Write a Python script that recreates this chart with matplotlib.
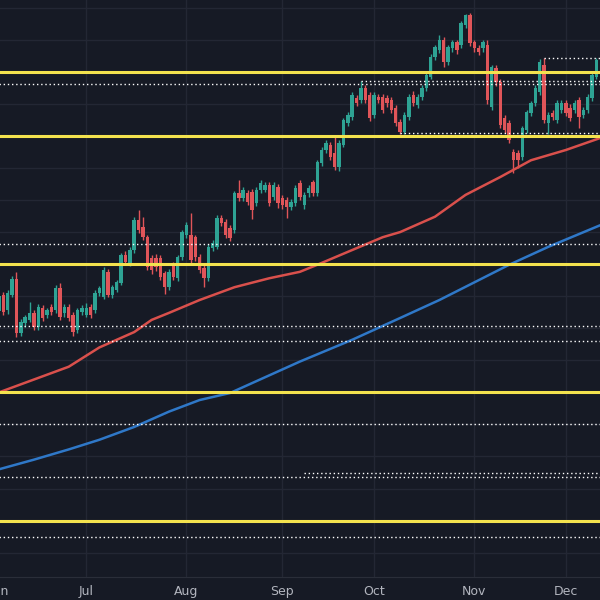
import numpy as np
import matplotlib
matplotlib.use("Agg")
import matplotlib.pyplot as plt

# daily gold candles, Jun 3 - Dec 11 (one entry per trading day)
opens = [2327, 2352, 2328, 2352, 2377, 2293, 2308, 2313, 2324, 2302,
         2332, 2321, 2333, 2328, 2363, 2324, 2333, 2321, 2297, 2325,
         2321, 2333, 2328, 2355, 2349, 2388, 2352, 2360, 2371, 2414,
         2402, 2422, 2469, 2458, 2442, 2410, 2410, 2410, 2386, 2364,
         2399, 2378, 2411, 2445, 2445, 2442, 2411, 2394, 2378, 2425,
         2427, 2472, 2466, 2456, 2453, 2511, 2503, 2511, 2512, 2495,
         2516, 2516, 2523, 2505, 2520, 2503, 2500, 2489, 2495, 2527,
         2492, 2511, 2528, 2511, 2558, 2578, 2586, 2573, 2551, 2586,
         2620, 2629, 2659, 2656, 2675, 2664, 2633, 2661, 2661, 2659,
         2656, 2644, 2622, 2606, 2629, 2664, 2648, 2661, 2675, 2692,
         2723, 2734, 2750, 2715, 2737, 2746, 2742, 2773, 2789, 2746,
         2737, 2737, 2742, 2645, 2706, 2684, 2628, 2620, 2575, 2573,
         2567, 2609, 2636, 2651, 2668, 2711, 2620, 2636, 2625, 2640,
         2651, 2644, 2640, 2656, 2633, 2640, 2659, 2692]
highs = [2354, 2356, 2360, 2381, 2388, 2314, 2320, 2341, 2328, 2338,
         2336, 2332, 2338, 2368, 2371, 2338, 2338, 2326, 2332, 2336,
         2340, 2338, 2360, 2366, 2395, 2393, 2368, 2376, 2418, 2420,
         2426, 2474, 2484, 2474, 2446, 2414, 2416, 2414, 2390, 2392,
         2404, 2414, 2453, 2465, 2480, 2446, 2416, 2398, 2431, 2437,
         2476, 2477, 2470, 2461, 2514, 2531, 2520, 2516, 2517, 2520,
         2531, 2528, 2528, 2528, 2525, 2508, 2505, 2501, 2524, 2531,
         2512, 2524, 2532, 2563, 2582, 2594, 2590, 2598, 2594, 2628,
         2638, 2668, 2664, 2686, 2680, 2668, 2668, 2666, 2666, 2664,
         2660, 2648, 2626, 2637, 2665, 2670, 2666, 2680, 2699, 2727,
         2742, 2758, 2755, 2742, 2750, 2750, 2780, 2790, 2792, 2750,
         2742, 2750, 2750, 2710, 2710, 2688, 2632, 2625, 2580, 2578,
         2616, 2641, 2655, 2679, 2720, 2722, 2637, 2640, 2656, 2656,
         2656, 2650, 2656, 2660, 2645, 2666, 2700, 2722]
lows = [2314, 2320, 2322, 2348, 2286, 2288, 2302, 2309, 2298, 2297,
        2312, 2316, 2320, 2324, 2313, 2318, 2312, 2288, 2292, 2320,
        2318, 2316, 2324, 2350, 2346, 2348, 2347, 2356, 2368, 2398,
        2397, 2418, 2449, 2438, 2391, 2385, 2390, 2376, 2353, 2360,
        2376, 2374, 2407, 2440, 2400, 2405, 2386, 2365, 2374, 2420,
        2423, 2459, 2440, 2436, 2449, 2498, 2498, 2492, 2471, 2490,
        2511, 2512, 2490, 2500, 2488, 2486, 2472, 2484, 2490, 2500,
        2486, 2505, 2506, 2506, 2553, 2573, 2562, 2547, 2546, 2582,
        2615, 2625, 2646, 2651, 2652, 2624, 2628, 2651, 2636, 2645,
        2635, 2615, 2603, 2603, 2625, 2646, 2644, 2656, 2670, 2688,
        2718, 2729, 2708, 2710, 2731, 2728, 2737, 2768, 2740, 2731,
        2726, 2731, 2650, 2640, 2678, 2612, 2605, 2589, 2542, 2550,
        2562, 2604, 2631, 2646, 2664, 2620, 2603, 2625, 2620, 2636,
        2631, 2623, 2635, 2613, 2628, 2636, 2655, 2688]
closes = [2350, 2325, 2355, 2377, 2293, 2310, 2317, 2324, 2302, 2333,
          2316, 2328, 2325, 2363, 2317, 2333, 2316, 2294, 2328, 2332,
          2332, 2321, 2355, 2363, 2391, 2352, 2364, 2372, 2414, 2403,
          2422, 2469, 2453, 2442, 2395, 2391, 2395, 2380, 2364, 2388,
          2380, 2411, 2450, 2461, 2406, 2411, 2391, 2378, 2427, 2433,
          2472, 2464, 2445, 2441, 2511, 2503, 2516, 2497, 2484, 2516,
          2527, 2523, 2495, 2523, 2495, 2492, 2489, 2497, 2519, 2505,
          2508, 2519, 2511, 2559, 2578, 2589, 2567, 2551, 2589, 2625,
          2633, 2664, 2651, 2675, 2656, 2628, 2664, 2656, 2640, 2651,
          2640, 2620, 2606, 2633, 2661, 2651, 2661, 2675, 2695, 2723,
          2739, 2750, 2715, 2739, 2746, 2734, 2776, 2789, 2745, 2737,
          2731, 2746, 2656, 2707, 2684, 2617, 2609, 2594, 2562, 2562,
          2612, 2637, 2651, 2675, 2715, 2625, 2633, 2629, 2651, 2651,
          2636, 2628, 2651, 2629, 2640, 2661, 2695, 2718]

# moving averages (candle index, price)
redMaIdx = [0, 8, 16, 23, 31, 35, 39, 46, 54, 62, 69, 73, 81, 88, 92, 100, 107, 115, 122, 130, 138]
redMaVal = [2200, 2220, 2240, 2270, 2294, 2313, 2324, 2344, 2364, 2378, 2388,
            2399, 2422, 2442, 2450, 2474, 2508, 2536, 2562, 2578, 2597]
blueMaIdx = [0, 8, 16, 23, 31, 39, 46, 53, 69, 81, 92, 101, 117, 126, 138]
blueMaVal = [2080, 2095, 2111, 2126, 2146, 2170, 2188, 2199, 2248, 2282,
             2316, 2344, 2399, 2427, 2461]

# support / resistance levels
yellowLevels = [2700, 2600, 2400, 2200, 2000]
dottedLevels = [2681, 2432, 2304, 2280, 2151, 2068, 1975]
# partial dotted levels: (price, start index)
partialLevels = [(2722, 125), (2686, 83), (2604, 92), (2074, 70)]

monthIdx = [0, 20, 43, 65, 86, 109, 130]
monthNames = ["Jun", "Jul", "Aug", "Sep", "Oct", "Nov", "Dec"]

bg = "#161a25"
gridColor = "#232734"
upColor = "#2ea394"
downColor = "#e05559"

fig = plt.figure(figsize=(6, 6), dpi=100, facecolor=bg)
ax = fig.add_axes([-10 / 600, 23 / 600, 610 / 600, 577 / 600])
ax.set_facecolor(bg)

ax.set_xlim(-2.064, 137.84)
ax.set_ylim(1912, 2812)

ax.set_yticks(np.arange(1950, 2801, 50))
ax.set_xticks(monthIdx)
ax.set_xticklabels(monthNames)
ax.tick_params(axis="x", length=0, colors="#b2b5be", labelsize=9, pad=6)
ax.tick_params(axis="y", left=False, labelleft=False)
ax.grid(True, color=gridColor, linewidth=1)
ax.set_axisbelow(True)
for side in ["top", "left", "right"]:
    ax.spines[side].set_visible(False)
ax.spines["bottom"].set_color("#2a2e39")

idx = np.arange(len(opens))
o = np.array(opens)
c = np.array(closes)
colors = [upColor if c[i] >= o[i] else downColor for i in idx]

ax.vlines(idx, lows, highs, colors=colors, linewidth=1, zorder=3)
bodyLow = np.minimum(o, c)
bodyH = np.maximum(np.abs(c - o), 1.5)
ax.bar(idx, bodyH, bottom=bodyLow, width=0.78, color=colors, linewidth=0, zorder=4)

ax.plot(redMaIdx, redMaVal, color="#d9504c", linewidth=1.8, zorder=5, solid_capstyle="round")
ax.plot(blueMaIdx, blueMaVal, color="#2f78c8", linewidth=1.8, zorder=5, solid_capstyle="round")

for lvl in dottedLevels:
    ax.axhline(lvl, color="white", linewidth=1, linestyle=(0, (1, 2)), zorder=6)
for lvl, start in partialLevels:
    ax.hlines(lvl, start, 140, color="white", linewidth=1, linestyle=(0, (1, 2)), zorder=6)
for lvl in yellowLevels:
    ax.axhline(lvl, color="#f3e24e", linewidth=2.2, zorder=7)

fig.savefig("out.png", dpi=100, facecolor=bg)
